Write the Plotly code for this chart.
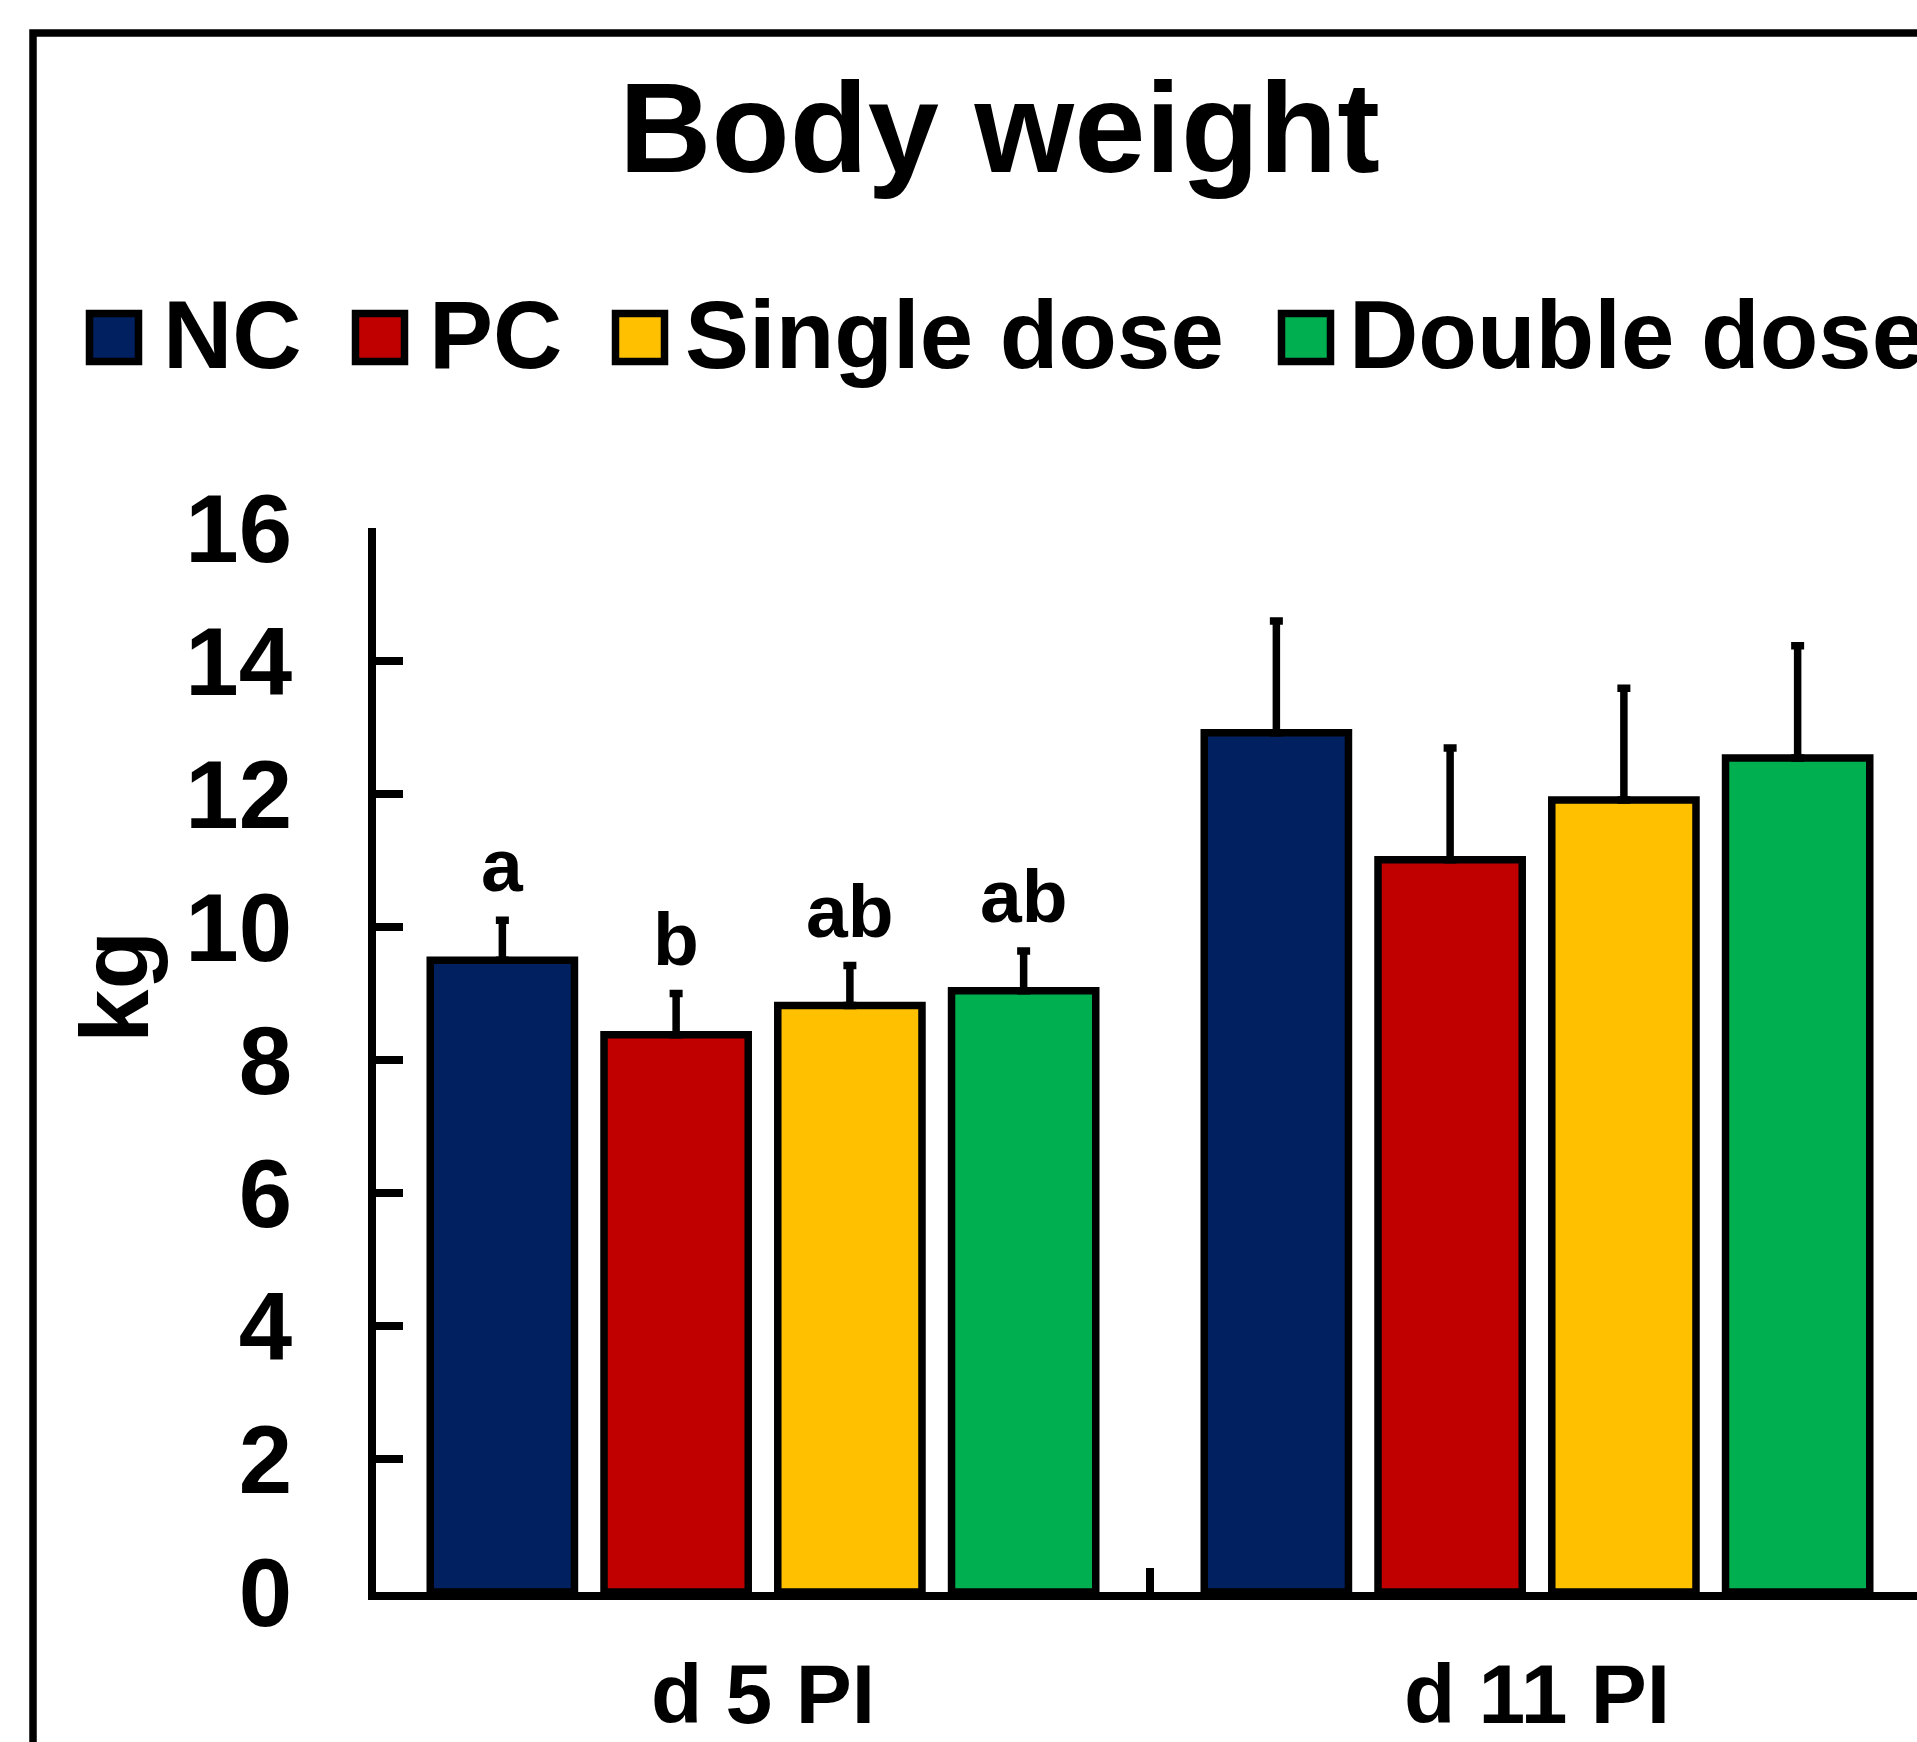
import plotly.graph_objects as go

# ---------------- data ----------------
groups = ["d 5 PI", "d 11 PI"]
series_names = ["NC", "PC", "Single dose", "Double dose"]
nc_mean = [9.50, 12.92]
nc_sd = [0.60, 1.68]
pc_mean = [8.38, 11.01]
pc_sd = [0.62, 1.68]
single_mean = [8.82, 11.91]
single_sd = [0.60, 1.68]
double_mean = [9.04, 12.54]
double_sd = [0.60, 1.69]
d5_letters = ["a", "b", "ab", "ab"]
y_ticks = [0, 2, 4, 6, 8, 10, 12, 14, 16]

colors = ["#002060", "#C00000", "#FFC000", "#00B050"]
means = [nc_mean, pc_mean, single_mean, double_mean]
sds = [nc_sd, pc_sd, single_sd, double_sd]

W, H = 1917, 1742
ML, MR, MT, MB = 376, 0, 528, 150
PW, PH = W - ML - MR, H - MT - MB
FONT = "Liberation Sans, Arial, sans-serif"
LW = 7.5


def px_x(x):
    return (x - ML) / PW


def px_y(y):
    return (H - MB - y) / PH


fig = go.Figure()
for name, m, s, c in zip(series_names, means, sds, colors):
    fig.add_trace(go.Bar(
        name=name, x=groups, y=m,
        marker=dict(color=c, line=dict(color="black", width=LW)),
        error_y=dict(type="data", array=s, arrayminus=[0] * len(s), symmetric=False,
                     color="black", thickness=7.5, width=6.5),
        showlegend=False,
    ))

# significance letters (d 5 PI only), placed above error bars via the category offsets
n = len(series_names)
bargap, bgg = 0.102, 0.17
slot = (1 - bargap) / n
annotations = []
for i, (lt, m, s) in enumerate(zip(d5_letters, means, sds)):
    xoff = -0.5 + bargap / 2 + slot * (i + 0.5)
    annotations.append(dict(
        x=0 + xoff, xref="x", y=m[0] + s[0], yref="y", text=lt, showarrow=False,
        yanchor="middle", xanchor="center", yshift=55,
        font=dict(family=FONT, size=75, color="black", weight="bold")))

# title
annotations.append(dict(text="Body weight", x=px_x(999), y=px_y(128), xref="paper", yref="paper",
                        showarrow=False, xanchor="center", yanchor="middle",
                        font=dict(family=FONT, size=128, color="black", weight="bold")))
# y axis title
annotations.append(dict(text="kg", x=px_x(114), y=px_y(987), xref="paper", yref="paper",
                        showarrow=False, xanchor="center", yanchor="middle", textangle=-90,
                        font=dict(family=FONT, size=96, color="black", weight="bold")))

# custom legend
shapes = []
legend_box_x = [86, 352, 612, 1278]
legend_text_x = [161, 427, 683, 1347]
for name, c, bx, tx in zip(series_names, colors, legend_box_x, legend_text_x):
    shapes.append(dict(type="rect", xref="paper", yref="paper",
                       x0=px_x(bx + 3.5), x1=px_x(bx + 52.5), y0=px_y(313.5), y1=px_y(361.5),
                       fillcolor=c, line=dict(color="black", width=LW)))
    annotations.append(dict(text=name, x=px_x(tx), y=px_y(334), xref="paper", yref="paper",
                            showarrow=False, xanchor="left", yanchor="middle",
                            font=dict(family=FONT, size=96, color="black", weight="bold")))

# outer frame (cropped on right/bottom as in the reference)
shapes.append(dict(type="rect", xref="paper", yref="paper", layer="below",
                   x0=px_x(33), x1=px_x(2100), y0=px_y(1900), y1=px_y(33),
                   line=dict(color="black", width=LW), fillcolor="rgba(0,0,0,0)"))

fig.update_layout(
    width=W, height=H,
    margin=dict(l=ML, r=MR, t=MT, b=MB, pad=0, autoexpand=False),
    paper_bgcolor="white", plot_bgcolor="white",
    barmode="group", bargap=bargap, bargroupgap=bgg,
    font=dict(family=FONT, color="black"),
    annotations=annotations, shapes=shapes,
    xaxis=dict(type="category", range=[-0.5, -0.5 + PW / 774.0], automargin=False,
               showline=True, linecolor="black", linewidth=LW,
               ticks="inside", tickson="boundaries", ticklen=24, tickwidth=LW, tickcolor="black",
               showgrid=False, zeroline=False, ticklabelstandoff=22,
               tickfont=dict(family=FONT, size=84, color="black", weight="bold")),
    yaxis=dict(range=[0, 16], tickvals=y_ticks, automargin=False,
               showline=True, linecolor="black", linewidth=LW,
               ticks="inside", ticklen=27, tickwidth=LW, tickcolor="black",
               showgrid=False, zeroline=False, ticklabelstandoff=57,
               tickfont=dict(family=FONT, size=96, color="black", weight="bold")),
)

fig.write_html(
    "out.html",
    config={"displayModeBar": False},
    post_script="document.body.style.margin='0';document.body.style.padding='0';"
                "document.body.style.overflow='hidden';"
                "document.documentElement.style.overflow='hidden';",
)
